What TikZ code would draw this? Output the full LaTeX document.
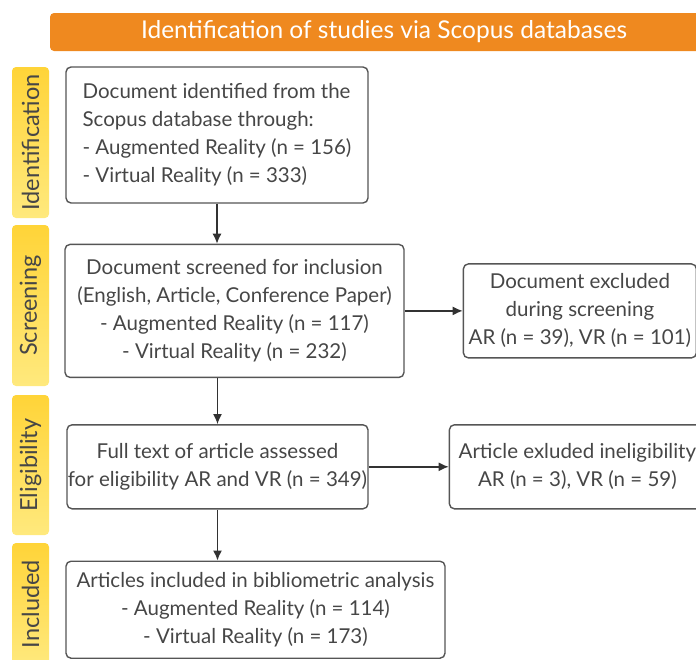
\documentclass[tikz,border=0pt]{standalone}
\usepackage{fontspec}
\setmainfont{Lato}
\usetikzlibrary{arrows.meta,positioning}
\definecolor{headorange}{RGB}{239,137,31}
\definecolor{boxline}{RGB}{85,85,85}
\definecolor{txtgray}{RGB}{70,70,70}
\definecolor{arrowgray}{RGB}{50,50,50}
\definecolor{stagetop}{RGB}{255,212,56}
\definecolor{stagebot}{RGB}{255,233,125}

\begin{document}
\begin{tikzpicture}[
  x=1pt,y=-1pt,
  font=\fontsize{20.5}{28}\selectfont,
  text=txtgray,
  box/.style={draw=boxline,line width=1.4pt,rounded corners=5pt,align=center,inner sep=0pt},
  stage/.style={rounded corners=4pt,top color=stagetop,bottom color=stagebot,minimum width=37pt,inner sep=0pt,font=\fontsize{23.5}{26}\selectfont},
  head/.style={fill=headorange,rounded corners=4pt,text=white,font=\fontsize{24.5}{26}\selectfont,inner sep=0pt},
  arr/.style={-{Latex[length=10pt,width=9pt]},line width=1.4pt,draw=arrowgray}
]
\clip (0,0) rectangle (696,659);
\node[head,minimum width=668pt,minimum height=38pt] (title) at (384,32) {Identification of studies via Scopus databases};
% stages on the left
\node[stage,minimum height=151pt] (sident) at (30.5,142.5) {\rotatebox{90}{Identification}};
\node[stage,minimum height=161pt] (sscreen) at (30.5,305.5) {\rotatebox{90}{Screening}};
\node[stage,minimum height=140pt] (selig) at (30.5,465) {\rotatebox{90}{Eligibility}};
\node[stage,minimum height=122pt] (sincl) at (30.5,604) {\rotatebox{90}{Included}};
% main flow
\node[box,align=left,minimum width=302pt,minimum height=136pt] (ident) at (217,135) {Document identified from the\\Scopus database through:\\- Augmented Reality (n = 156)\\- Virtual Reality (n = 333)};
\node[box,below=40pt of ident.south west,anchor=north west,minimum width=339pt,minimum height=133pt,xshift=-1pt] (screen) {Document screened for inclusion\\(English, Article, Conference Paper)\\- Augmented Reality (n = 117)\\- Virtual Reality (n = 232)};
\node[box,right=58pt of screen,minimum width=233pt,minimum height=94pt] (excl1) {Document excluded\\during screening\\AR (n = 39), VR (n = 101)};
\node[box,below=46pt of screen.south west,anchor=north west,minimum width=301pt,minimum height=84pt,xshift=2pt] (elig) {Full text of article assessed\\for eligibility AR and VR (n = 349)};
\node[box,right=80pt of elig,minimum width=256pt,minimum height=84pt] (excl2) {Article exluded ineligibility\\AR (n = 3), VR (n = 59)};
\node[box,below=51pt of elig.south west,anchor=north west,minimum width=379pt,minimum height=97pt,xshift=-1pt] (incl) {Articles included in bibliometric analysis\\- Augmented Reality (n = 114)\\- Virtual Reality (n = 173)};
\draw[arr] (ident.south) -- (ident.south |- screen.north);
\draw[arr] (screen.south -| elig.north) -- (elig.north);
\draw[arr] (elig.south) -- (elig.south |- incl.north);
\draw[arr] (screen) -- (excl1);
\draw[arr] (elig) -- (excl2);
\end{tikzpicture}
\end{document}
